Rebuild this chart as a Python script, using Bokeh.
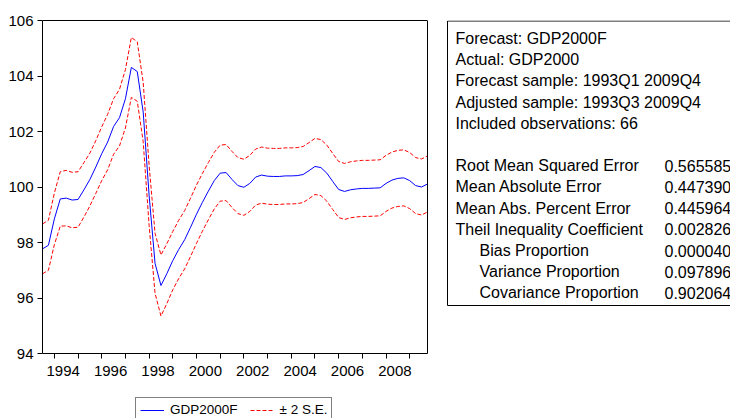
from bokeh.plotting import figure
from bokeh.models import Range1d, FixedTicker, Legend, LegendItem, LinearAxis
from bokeh.core.properties import value
from bokeh.embed import file_html
from bokeh.resources import INLINE

# ---- data (1993Q3 .. 2009Q4, quarterly) ----
start_year = 1993
start_quarter = 3
n_obs = 66

gdp2000f = [97.77, 97.90, 98.85, 99.57, 99.60, 99.53, 99.55, 99.90, 100.27, 100.72,
            101.20, 101.62, 102.18, 102.50, 103.18, 104.31, 104.16, 102.70, 99.70, 97.25,
            96.45, 96.88, 97.35, 97.75, 98.10, 98.55, 99.02, 99.45, 99.85, 100.23,
            100.50, 100.52, 100.27, 100.05, 99.99, 100.13, 100.36, 100.43, 100.39, 100.38,
            100.38, 100.40, 100.40, 100.41, 100.45, 100.59, 100.74, 100.70, 100.50, 100.20,
            99.91, 99.84, 99.90, 99.93, 99.95, 99.95, 99.96, 99.97, 100.13, 100.25,
            100.31, 100.33, 100.23, 100.05, 100.00, 100.11]

upper_2se = [98.67, 98.80, 99.78, 100.55, 100.60, 100.53, 100.55, 100.88, 101.22, 101.67,
             102.17, 102.62, 103.18, 103.52, 104.23, 105.39, 105.23, 103.77, 100.78, 98.33,
             97.55, 97.96, 98.40, 98.80, 99.15, 99.60, 100.07, 100.49, 100.88, 101.25,
             101.51, 101.53, 101.28, 101.06, 101.00, 101.14, 101.37, 101.44, 101.40, 101.39,
             101.39, 101.41, 101.41, 101.42, 101.46, 101.60, 101.75, 101.71, 101.51, 101.21,
             100.92, 100.85, 100.91, 100.94, 100.96, 100.96, 100.97, 100.98, 101.14, 101.26,
             101.32, 101.34, 101.24, 101.06, 101.01, 101.12]

lower_2se = [96.87, 97.00, 97.92, 98.59, 98.60, 98.53, 98.55, 98.92, 99.32, 99.77,
             100.23, 100.62, 101.18, 101.48, 102.13, 103.23, 103.09, 101.63, 98.62, 96.17,
             95.35, 95.80, 96.30, 96.70, 97.05, 97.50, 97.97, 98.41, 98.82, 99.21,
             99.49, 99.51, 99.26, 99.04, 98.98, 99.12, 99.35, 99.42, 99.38, 99.37,
             99.37, 99.39, 99.39, 99.40, 99.44, 99.58, 99.73, 99.69, 99.49, 99.19,
             98.90, 98.83, 98.89, 98.92, 98.94, 98.94, 98.95, 98.96, 99.12, 99.24,
             99.30, 99.32, 99.22, 99.04, 98.99, 99.10]

y_min, y_max = 94, 106
y_ticks = [94, 96, 98, 100, 102, 104, 106]
year_ticks = list(range(1994, 2010))
label_years = [1994, 1996, 1998, 2000, 2002, 2004, 2006, 2008]

stat_header = ["Forecast: GDP2000F", "Actual: GDP2000", "Forecast sample: 1993Q1 2009Q4",
               "Adjusted sample: 1993Q3 2009Q4", "Included observations: 66"]
stat_names = ["Root Mean Squared Error", "Mean Absolute Error", "Mean Abs. Percent Error",
              "Theil Inequality Coefficient", "Bias Proportion", "Variance Proportion",
              "Covariance Proportion"]
stat_indent = [False, False, False, False, True, True, True]
stat_values = ["0.565585", "0.447390", "0.445964", "0.002826", "0.000040", "0.097896", "0.902064"]

# time index
x = []
for i in range(n_obs):
    qq = start_quarter - 1 + i
    x.append(start_year + (qq // 4) + (qq % 4) / 4.0)
x0, x1 = x[0], x[-1]

# ---- layout (page pixels) ----
W, H = 730, 418
CH_L, CH_R, CH_T, CH_B = 42, 427, 20, 353     # chart area
FONT = "Liberation Sans"

ppx = (CH_R - CH_L) / (x1 - x0)
ppy = (CH_B - CH_T) / (y_max - y_min)
xr = Range1d(x0, x0 + (W - CH_L) / ppx)
yr = Range1d(y_min - (H - CH_B) / ppy, y_max)

p = figure(width=W, height=H, output_backend="svg", toolbar_location=None,
           x_range=xr, y_range=yr,
           min_border_left=CH_L, min_border_right=0, min_border_top=CH_T,
           min_border_bottom=0)
p.extra_x_ranges = {"px": Range1d(CH_L, W)}
p.extra_y_ranges = {"px": Range1d(H, CH_T)}
p.grid.visible = False
p.outline_line_color = None
p.background_fill_color = "white"
p.border_fill_color = "white"

r_f = p.line(x, gdp2000f, color="#0000FF", line_width=1)
r_u = p.line(x, upper_2se, color="#FF0000", line_width=1, line_dash="4 2")
r_l = p.line(x, lower_2se, color="#FF0000", line_width=1, line_dash="4 2")

# bottom axis
label_pos = [yr_ + 0.375 for yr_ in label_years]
xa = p.xaxis[0]
xa.fixed_location = y_min
xa.bounds = (x0, x1)
xa.ticker = FixedTicker(ticks=label_pos, minor_ticks=year_ticks)
xa.major_label_overrides = {pos: str(yr_) for pos, yr_ in zip(label_pos, label_years)}
xa.major_tick_line_color = None
xa.major_tick_out = 5
xa.major_tick_in = 0
xa.minor_tick_out = 5
xa.minor_tick_in = 0
xa.minor_tick_line_color = "black"
xa.major_label_standoff = 7
xa.major_label_text_font_size = "15px"

# left axis
ya = p.yaxis[0]
ya.bounds = (y_min, y_max)
ya.ticker = FixedTicker(ticks=y_ticks)
ya.major_tick_out = 5
ya.major_tick_in = 0
ya.minor_tick_line_color = None
ya.major_label_standoff = 4
ya.major_label_text_font_size = "15px"

for ax in (xa, ya):
    ax.axis_line_color = "black"
    ax.major_label_text_font = FONT
    ax.major_label_text_color = "black"

# frame top and right edges of the chart
top_ax = LinearAxis(bounds=(x0, x1), ticker=FixedTicker(ticks=[]),
                    major_tick_line_color=None, minor_tick_line_color=None,
                    major_label_text_font_size="0px", axis_line_color="black")
p.add_layout(top_ax, "above")
right_ax = LinearAxis(fixed_location=x1, bounds=(y_min, y_max), ticker=FixedTicker(ticks=[]),
                      major_tick_line_color=None, minor_tick_line_color=None,
                      major_label_text_font_size="0px", axis_line_color="black")
p.add_layout(right_ax, "right")

# legend under the chart
legend = Legend(items=[LegendItem(label="GDP2000F", renderers=[r_f]),
                       LegendItem(label="± 2 S.E.", renderers=[r_u])],
                orientation="horizontal", location=(135 - CH_L, -4),
                border_line_color="black", border_line_width=1,
                background_fill_color="white", background_fill_alpha=1.0,
                label_text_font=FONT, label_text_font_size="13.5px",
                label_text_color="black",
                glyph_width=24, glyph_height=14, label_height=14,
                label_standoff=6, spacing=12, padding=4, margin=0)
p.add_layout(legend)

# statistics box
p.quad(left=447, right=W + 30, top=CH_T + 0.5, bottom=305, fill_color=None,
       line_color="black", line_width=1, x_range_name="px", y_range_name="px")

line_h = 21.2
y0 = 38
hy = [y0 + i * line_h for i in range(len(stat_header))]
sy = [y0 + (len(stat_header) + 1 + i) * line_h for i in range(len(stat_names))]
sx = [479 if ind else 455 for ind in stat_indent]

txt_kw = dict(text_font=value(FONT), text_font_size="16px", text_color="black",
              text_baseline="middle", text_align="left", x_range_name="px", y_range_name="px")
p.text(x=[455] * len(stat_header), y=hy, text=stat_header, **txt_kw)
p.text(x=sx, y=sy, text=stat_names, **txt_kw)
p.text(x=[664] * len(stat_values), y=sy, text=stat_values, **txt_kw)

open("out.html", "w").write(file_html(p, INLINE))
